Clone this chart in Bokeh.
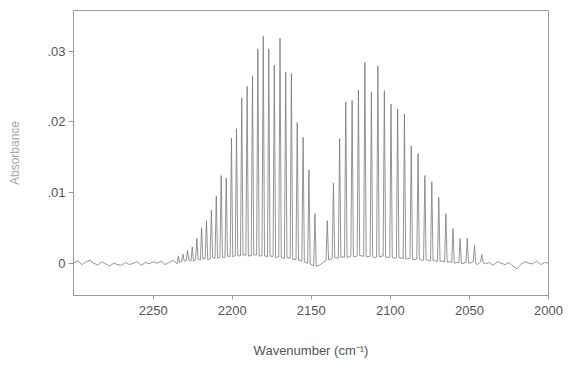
import numpy as np
from bokeh.plotting import figure
from bokeh.models import Range1d, FixedTicker, CustomJSTickFormatter
from bokeh.embed import file_html
from bokeh.resources import INLINE

# R-branch line positions (cm^-1) and peak absorbance
r_wn = [2147.7, 2151.5, 2155.2, 2158.9, 2162.6, 2166.2, 2169.8, 2173.4, 2176.9,
        2180.4, 2183.8, 2187.2, 2190.6, 2194.0, 2197.3, 2200.5, 2203.8, 2207.0,
        2210.1, 2213.2, 2216.3, 2219.4, 2222.4, 2225.3, 2228.3, 2231.2, 2234.1]
r_abs = [0.0070, 0.0132, 0.0178, 0.0199, 0.0268, 0.0270, 0.0318, 0.0280, 0.0303,
         0.0321, 0.0303, 0.0265, 0.0250, 0.0234, 0.0190, 0.0177, 0.0120, 0.0124,
         0.0095, 0.0075, 0.0060, 0.0050, 0.0035, 0.0023, 0.0018, 0.0013, 0.0010]

# P-branch line positions (cm^-1) and peak absorbance
p_wn = [2139.9, 2136.0, 2132.1, 2128.2, 2124.2, 2120.2, 2116.1, 2112.0, 2107.9,
        2103.8, 2099.6, 2095.4, 2091.1, 2086.8, 2082.5, 2078.2, 2073.8, 2069.4,
        2064.9, 2060.4, 2055.9, 2051.4, 2046.8, 2042.2]
p_abs = [0.0060, 0.0113, 0.0176, 0.0228, 0.0230, 0.0245, 0.0284, 0.0242, 0.0279,
         0.0244, 0.0225, 0.0218, 0.0211, 0.0166, 0.0155, 0.0124, 0.0115, 0.0093,
         0.0070, 0.0049, 0.0035, 0.0035, 0.0025, 0.0012]

# Baseline (x 1e-4 absorbance), sampled every 2.5 cm^-1 from 2300 down to 2000
base_wn = [2300 - 2.5 * i for i in range(121)]
base_e4 = [1, 3, -2, 2, 4, 0, -3, 2, -1, -4, 0, -2, -3, 1, -2, 0, 2, -3, 1, -1,
           2, 0, 3, -2, 1, 4, -1, 2,
           3, 5, 2, 6, 4, 7, 5, 8, 6, 9, 8, 10, 9, 11, 10, 12, 10, 11, 12, 10,
           11, 9, 10, 8, 9, 7, 8, 6, 5, 4, 2, 0,
           -2, -5, -3, 1, 4,
           6, 8, 7, 9, 8, 10, 9, 11, 10, 9, 10, 8, 9, 10, 8, 9, 7, 8, 7, 6, 7,
           5, 6, 4, 5, 3, 4, 2, 3, 1, 2, 0, 1, -1, 1, 0,
           2, -2, 3, -1, 1, -3, 2, 0, -2, 1, -4, -8, -2, 2, 0, -1, 3, -2, 1, 0]

# ---- build the trace ----
bx = np.array(base_wn[::-1], dtype=float)
by = np.array(base_e4[::-1], dtype=float) * 1e-4
pk_x = np.array(r_wn + p_wn, dtype=float)
pk_y = np.array(r_abs + p_abs, dtype=float)
hw = 0.8
pts = []
for x, y in zip(bx, by):
    if np.min(np.abs(pk_x - x)) > hw + 0.2:
        pts.append((x, y))
for x0, h in zip(pk_x, pk_y):
    pts.append((x0 - hw, float(np.interp(x0 - hw, bx, by))))
    pts.append((x0, h))
    pts.append((x0 + hw, float(np.interp(x0 + hw, bx, by))))
pts.sort(key=lambda t: t[0])
xs = [t[0] for t in pts]
ys = [t[1] for t in pts]

p = figure(width=571, height=376, output_backend="svg", toolbar_location=None,
           x_range=Range1d(2300.4, 2000), y_range=Range1d(-0.00457, 0.03573),
           min_border_left=73, min_border_right=23, min_border_top=10,
           min_border_bottom=81)
p.background_fill_color = "#ffffff"
p.border_fill_color = "#ffffff"
p.outline_line_color = "#9a9a9a"
p.outline_line_width = 1
p.grid.visible = False

p.line(xs, ys, line_color="#7a7a7a", line_width=0.8)

# x axis
p.xaxis.ticker = FixedTicker(ticks=[2250, 2200, 2150, 2100, 2050, 2000])
p.xaxis.axis_label = "Wavenumber (cm\u207b\u00b9)"
p.xaxis.axis_label_text_font = "Liberation Sans"
p.xaxis.axis_label_text_font_style = "normal"
p.xaxis.axis_label_text_font_size = "13px"
p.xaxis.axis_label_text_color = "#555555"
p.xaxis.axis_label_standoff = 25
p.xaxis.major_label_text_font = "Liberation Sans"
p.xaxis.major_label_text_font_size = "13px"
p.xaxis.major_label_text_color = "#555555"
p.xaxis.major_label_standoff = 6
p.xaxis.major_tick_out = 4
p.xaxis.major_tick_in = 0
p.xaxis.minor_tick_line_color = None
p.xaxis.axis_line_color = "#9a9a9a"
p.xaxis.major_tick_line_color = "#9a9a9a"

# y axis
p.yaxis.ticker = FixedTicker(ticks=[0, 0.01, 0.02, 0.03])
p.yaxis.formatter = CustomJSTickFormatter(code="""
    if (Math.abs(tick) < 1e-9) { return "0"; }
    return tick.toFixed(2).replace(/^0/, "");
""")
p.yaxis.axis_label = "Absorbance"
p.yaxis.axis_label_text_font = "Liberation Sans"
p.yaxis.axis_label_text_font_style = "normal"
p.yaxis.axis_label_text_font_size = "12px"
p.yaxis.axis_label_text_color = "#a8a8a8"
p.yaxis.axis_label_standoff = 22
p.yaxis.major_label_text_font = "Liberation Sans"
p.yaxis.major_label_text_font_size = "13px"
p.yaxis.major_label_text_color = "#555555"
p.yaxis.major_label_standoff = 3
p.yaxis.major_tick_out = 5
p.yaxis.major_tick_in = 0
p.yaxis.minor_tick_line_color = None
p.yaxis.axis_line_color = "#9a9a9a"
p.yaxis.major_tick_line_color = "#9a9a9a"

open("out.html", "w").write(file_html(p, INLINE))
